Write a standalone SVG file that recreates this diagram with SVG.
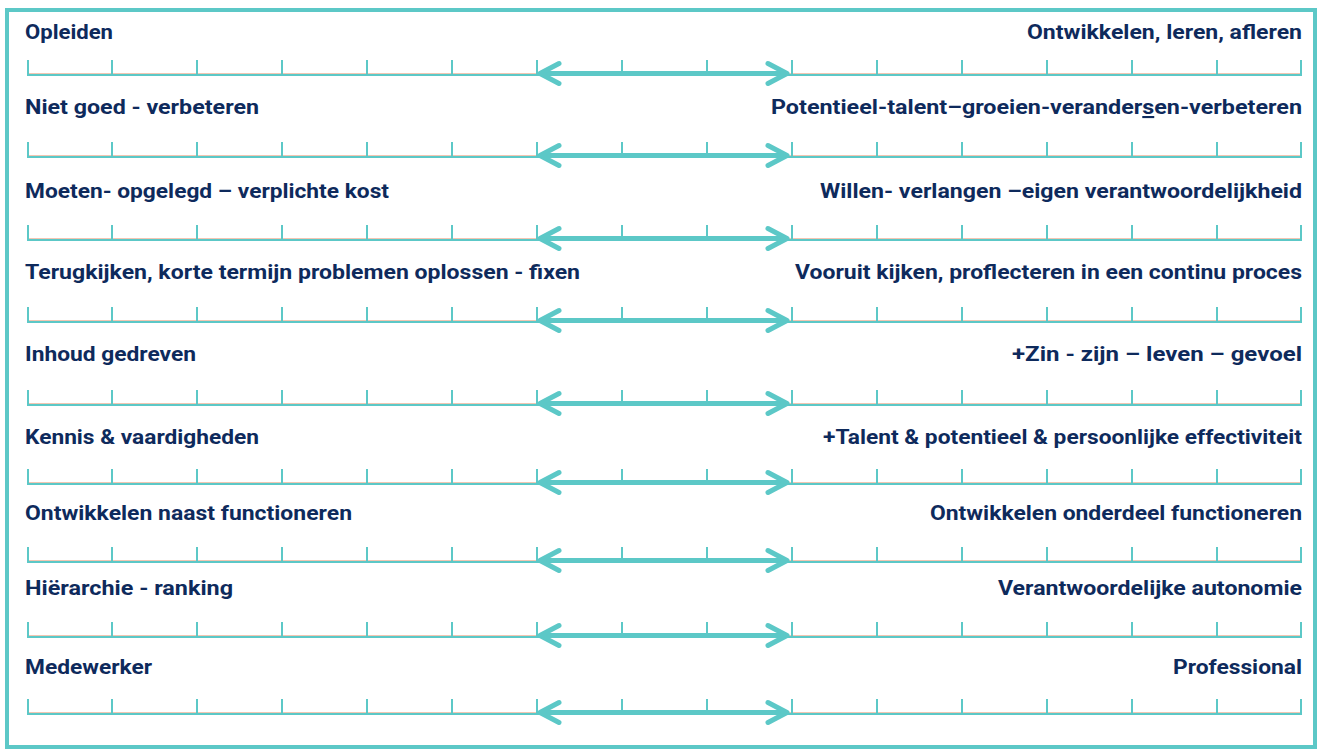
<svg xmlns="http://www.w3.org/2000/svg" xmlns:xlink="http://www.w3.org/1999/xlink" width="1319" height="750" viewBox="0 0 1319 750">
<style>
.lbl{font-family:Roboto,"Liberation Sans",sans-serif;font-weight:700;font-size:21px;fill:#0E2A5C}
.r{text-anchor:end}
.ax{stroke:#5CC8C7;stroke-width:2;fill:none}
.pe{stroke:#F2C6B2;stroke-width:1.2;fill:none}
.arr{stroke:#5CC8C7;stroke-width:5;fill:none;stroke-linecap:round;stroke-linejoin:round}
</style>
<defs>
<g id="axis">
<line class="pe" x1="27" y1="-1.5" x2="1302" y2="-1.5"/>
<line class="ax" x1="27" y1="0" x2="1302" y2="0"/>
<path class="ax" d="M28,0V-15M112,0V-15M197,0V-15M282,0V-15M367,0V-15M452,0V-15M537,0V-15M622,0V-15M707,0V-15M792,0V-15M877,0V-15M962,0V-15M1047,0V-15M1132,0V-15M1217,0V-15M1301,0V-15"/>
</g>
<g id="arrow">
<line class="arr" x1="543" y1="-1.5" x2="784" y2="-1.5"/>
<polyline class="arr" points="559,-11.5 540,-1.5 559,8.5"/>
<polyline class="arr" points="768,-11.5 787,-1.5 768,8.5"/>
</g>
</defs>
<rect x="7" y="10" width="1308" height="737" fill="#FFFFFF" stroke="#5CC8C7" stroke-width="4"/>
<g id="row1">
<use xlink:href="#axis" y="75"/>
<text class="lbl" x="25" y="39" textLength="88" lengthAdjust="spacingAndGlyphs">Opleiden</text>
<text class="lbl r" x="1302" y="39" textLength="275" lengthAdjust="spacingAndGlyphs">Ontwikkelen, leren, afleren</text>
</g>
<g id="row2">
<use xlink:href="#axis" y="157"/>
<text class="lbl" x="25" y="114" textLength="234" lengthAdjust="spacingAndGlyphs">Niet goed - verbeteren</text>
<text class="lbl r" x="1302" y="114" textLength="531" lengthAdjust="spacingAndGlyphs">Potentieel-talent–groeien-verander<tspan text-decoration="underline">s</tspan>en-verbeteren</text>
</g>
<g id="row3">
<use xlink:href="#axis" y="240"/>
<text class="lbl" x="25" y="198" textLength="364" lengthAdjust="spacingAndGlyphs">Moeten- opgelegd – verplichte kost</text>
<text class="lbl r" x="1302" y="198" textLength="482" lengthAdjust="spacingAndGlyphs">Willen- verlangen –eigen verantwoordelijkheid</text>
</g>
<g id="row4">
<use xlink:href="#axis" y="322"/>
<text class="lbl" x="25" y="279" textLength="555" lengthAdjust="spacingAndGlyphs">Terugkijken, korte termijn problemen oplossen - fixen</text>
<text class="lbl r" x="1302" y="279" textLength="507" lengthAdjust="spacingAndGlyphs">Vooruit kijken, proflecteren in een continu proces</text>
</g>
<g id="row5">
<use xlink:href="#axis" y="405"/>
<text class="lbl" x="25" y="361" textLength="171" lengthAdjust="spacingAndGlyphs">Inhoud gedreven</text>
<text class="lbl r" x="1302" y="361" textLength="290" lengthAdjust="spacingAndGlyphs">+Zin - zijn – leven – gevoel</text>
</g>
<g id="row6">
<use xlink:href="#axis" y="484"/>
<text class="lbl" x="25" y="444" textLength="234" lengthAdjust="spacingAndGlyphs">Kennis &amp; vaardigheden</text>
<text class="lbl r" x="1302" y="444" textLength="479" lengthAdjust="spacingAndGlyphs">+Talent &amp; potentieel &amp; persoonlijke effectiviteit</text>
</g>
<g id="row7">
<use xlink:href="#axis" y="562"/>
<text class="lbl" x="25" y="520" textLength="327" lengthAdjust="spacingAndGlyphs">Ontwikkelen naast functioneren</text>
<text class="lbl r" x="1302" y="520" textLength="372" lengthAdjust="spacingAndGlyphs">Ontwikkelen onderdeel functioneren</text>
</g>
<g id="row8">
<use xlink:href="#axis" y="637"/>
<text class="lbl" x="25" y="595" textLength="208" lengthAdjust="spacingAndGlyphs">Hiërarchie - ranking</text>
<text class="lbl r" x="1302" y="595" textLength="304" lengthAdjust="spacingAndGlyphs">Verantwoordelijke autonomie</text>
</g>
<g id="row9">
<use xlink:href="#axis" y="714"/>
<text class="lbl" x="25" y="674" textLength="127" lengthAdjust="spacingAndGlyphs">Medewerker</text>
<text class="lbl r" x="1302" y="674" textLength="129" lengthAdjust="spacingAndGlyphs">Professional</text>
</g>
<g id="connectors">
<use xlink:href="#arrow" y="75"/>
<use xlink:href="#arrow" y="157"/>
<use xlink:href="#arrow" y="240"/>
<use xlink:href="#arrow" y="322"/>
<use xlink:href="#arrow" y="405"/>
<use xlink:href="#arrow" y="484"/>
<use xlink:href="#arrow" y="562"/>
<use xlink:href="#arrow" y="637"/>
<use xlink:href="#arrow" y="714"/>
</g>
</svg>
